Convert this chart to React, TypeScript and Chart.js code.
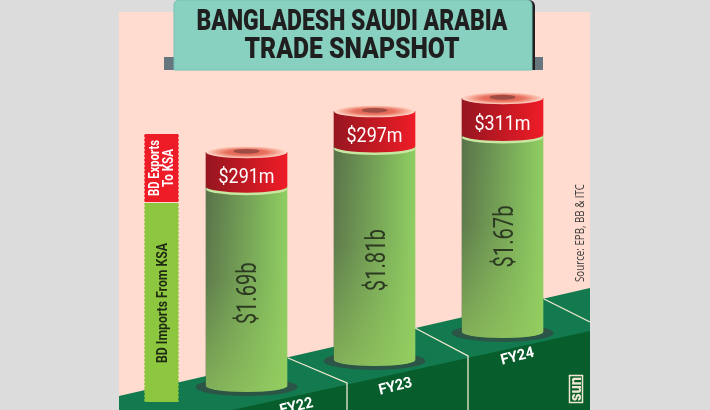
import React, { useEffect, useRef } from "react";
import { Chart, registerables } from "chart.js";

Chart.register(...registerables);

const fiscalYears = ["FY22", "FY23", "FY24"];
// Height of each cylinder's foot on the stepped floor, on the same $b scale.
const floorStep = [0.203, 0.424, 0.661];
const importsBn = [1.69, 1.81, 1.67];
const exportsBn = [0.291, 0.297, 0.311];
const importLabels = ["$1.69b", "$1.81b", "$1.67b"];
const exportLabels = ["$291m", "$297m", "$311m"];
const titleLines = ["BANGLADESH SAUDI ARABIA", "TRADE SNAPSHOT"];
const sourceNote = "Source: EPB, BB & ITC";
const legendExports = ["BD Exports", "To KSA"];
const legendImports = "BD Imports From KSA";

const PX_PER_BN = 118;
const BAR_PX = 81;
const RY = 6;

function poly(ctx: CanvasRenderingContext2D, pts: number[][], fill: string) {
  ctx.beginPath();
  pts.forEach((p, i) => (i ? ctx.lineTo(p[0], p[1]) : ctx.moveTo(p[0], p[1])));
  ctx.closePath();
  ctx.fillStyle = fill;
  ctx.fill();
}

function rotatedText(
  ctx: CanvasRenderingContext2D,
  text: string,
  x: number,
  y: number,
  angle: number,
  font: string,
  color: string,
  maxWidth?: number
) {
  ctx.save();
  ctx.translate(x, y);
  ctx.rotate(angle);
  ctx.font = font;
  ctx.fillStyle = color;
  ctx.textAlign = "center";
  ctx.textBaseline = "middle";
  if (maxWidth) ctx.fillText(text, 0, 0, maxWidth);
  else ctx.fillText(text, 0, 0);
  ctx.restore();
}

function stampPath(ctx: CanvasRenderingContext2D, l: number, t: number, r: number, b: number) {
  ctx.beginPath();
  ctx.moveTo(l, t);
  ctx.lineTo(r, t);
  let y = t;
  let out = true;
  while (y < b) {
    y = Math.min(b, y + 2);
    ctx.lineTo(out ? r + 1 : r, y);
    out = !out;
  }
  ctx.lineTo(l, b);
  while (y > t) {
    y = Math.max(t, y - 2);
    ctx.lineTo(out ? l - 1 : l, y);
    out = !out;
  }
  ctx.closePath();
}

const bandGradient = (ctx: CanvasRenderingContext2D, x: number, w: number, left: string, right: string) => {
  const g = ctx.createLinearGradient(x - w / 2, 0, x + w / 2, 0);
  g.addColorStop(0, left);
  g.addColorStop(1, right);
  return g;
};

const GREEN_L = "#58724a";
const GREEN_R = "#8fce62";
const RED_L = "#96161f";
const RED_R = "#ee1c27";

const scriptedBand = (left: string, right: string) => (c: any) => {
  const x = c.chart.scales?.x?.getPixelForValue(c.dataIndex);
  return Number.isFinite(x) ? bandGradient(c.chart.ctx, x, BAR_PX, left, right) : right;
};

const infographic = {
  id: "infographic",
  beforeDraw(chart: any) {
    const ctx: CanvasRenderingContext2D = chart.ctx;
    ctx.save();
    ctx.fillStyle = "#dcdcdc";
    ctx.fillRect(0, 0, 710, 410);
    ctx.fillStyle = "#ffdccf";
    ctx.fillRect(119, 12, 471, 398);

    // stepped floor
    poly(ctx, [[119, 396], [590, 288], [590, 410], [119, 410]], "#127a4e");
    poly(ctx, [[232, 410], [590, 331], [590, 410]], "#075e2c");
    ctx.strokeStyle = "#efe8cf";
    ctx.lineWidth = 1.3;
    [
      [[288, 358], [347, 383], [347, 410]],
      [[415, 328], [468, 356], [468, 410]],
      [[544, 299], [590, 322]],
    ].forEach((seg) => {
      ctx.beginPath();
      seg.forEach((p, i) => (i ? ctx.lineTo(p[0], p[1]) : ctx.moveTo(p[0], p[1])));
      ctx.stroke();
    });

    // title panel
    ctx.fillStyle = "#66767f";
    ctx.fillRect(164, 57, 10, 13);
    ctx.fillRect(533, 57, 10, 13);
    ctx.beginPath();
    ctx.roundRect(174, 0, 361, 70, [6, 6, 0, 0]);
    ctx.fillStyle = "#231f20";
    ctx.fill();
    ctx.beginPath();
    ctx.roundRect(174, 0, 358, 70, [5, 5, 0, 0]);
    ctx.fillStyle = "#88d0c0";
    ctx.fill();
    ctx.strokeStyle = "#74c2b2";
    ctx.lineWidth = 1;
    ctx.stroke();
    titleLines.forEach((line, i) => {
      const w = i === 0 ? 311 : 215;
      rotatedText(ctx, line, 352, 23 + i * 27.5, 0, "900 29px Roboto", "#1f1f20", w);
    });

    // source + logo
    rotatedText(ctx, sourceNote, 580.5, 233, -Math.PI / 2, "12px 'Open Sans'", "#3a3a3a", 98);
    ctx.strokeStyle = "#efe8cf";
    ctx.lineWidth = 1.5;
    ctx.strokeRect(569.5, 375.5, 13, 27);
    rotatedText(ctx, "sun", 576.5, 389, -Math.PI / 2, "900 17px Roboto", "#efe8cf", 24);

    // stacked legend strip
    stampPath(ctx, 145, 134, 178, 202);
    ctx.fillStyle = "#ee1c27";
    ctx.fill();
    stampPath(ctx, 145, 203, 178, 402);
    ctx.fillStyle = "#8dc63f";
    ctx.fill();
    legendExports.forEach((line, i) =>
      rotatedText(ctx, line, 155 + i * 14, 168, -Math.PI / 2, "700 14px Roboto", "#ffffff", i === 0 ? 56 : 38)
    );
    rotatedText(ctx, legendImports, 163.5, 303, -Math.PI / 2, "700 14px Roboto", "#1f2a14", 120);
    ctx.restore();
  },
  beforeDatasetsDraw(chart: any) {
    const ctx: CanvasRenderingContext2D = chart.ctx;
    const green = chart.getDatasetMeta(1).data;
    ctx.save();
    green.forEach((bar: any) => {
      // ground shadow and cylinder foot
      ctx.beginPath();
      ctx.ellipse(bar.x, bar.base + 1, 51, 9, 0, 0, Math.PI * 2);
      ctx.fillStyle = "#2b5547";
      ctx.fill();
      ctx.beginPath();
      ctx.ellipse(bar.x, bar.base, BAR_PX / 2, RY, 0, 0, Math.PI * 2);
      ctx.fillStyle = bandGradient(ctx, bar.x, BAR_PX, GREEN_L, GREEN_R);
      ctx.fill();
    });
    ctx.restore();
  },
  afterDatasetsDraw(chart: any) {
    const ctx: CanvasRenderingContext2D = chart.ctx;
    const green = chart.getDatasetMeta(1).data;
    const red = chart.getDatasetMeta(2).data;
    ctx.save();
    green.forEach((bar: any, i: number) => {
      const rx = BAR_PX / 2;
      const left = bar.x - rx;
      // the body lightens toward its foot
      ctx.beginPath();
      ctx.moveTo(left, bar.y);
      ctx.lineTo(left + BAR_PX, bar.y);
      ctx.lineTo(left + BAR_PX, bar.base);
      ctx.ellipse(bar.x, bar.base, rx, RY, 0, 0, Math.PI);
      ctx.closePath();
      const v = ctx.createLinearGradient(0, bar.y, 0, bar.base + RY);
      v.addColorStop(0, "rgba(150,205,95,0)");
      v.addColorStop(0.45, "rgba(150,205,95,0.12)");
      v.addColorStop(1, "rgba(150,205,95,0.68)");
      ctx.fillStyle = v;
      ctx.fill();

      const rb = red[i];
      // pale rim under the red band
      ctx.beginPath();
      ctx.ellipse(bar.x, rb.base + 2.5, rx, RY, 0, 0, Math.PI * 2);
      ctx.fillStyle = "#c8e8a2";
      ctx.fill();
      ctx.beginPath();
      ctx.ellipse(bar.x, rb.base, rx, RY, 0, 0, Math.PI * 2);
      ctx.fillStyle = bandGradient(ctx, bar.x, BAR_PX, RED_L, RED_R);
      ctx.fill();

      // top disc
      ctx.save();
      ctx.translate(bar.x, rb.y);
      ctx.scale(1, RY / rx);
      const disc = ctx.createRadialGradient(0, 0, 0, 0, 0, rx);
      disc.addColorStop(0, "#d8604f");
      disc.addColorStop(0.5, "#e8705f");
      disc.addColorStop(0.82, "#f9b3a0");
      disc.addColorStop(1, "#ffdccf");
      ctx.beginPath();
      ctx.arc(0, 0, rx, 0, Math.PI * 2);
      ctx.fillStyle = disc;
      ctx.fill();
      ctx.restore();
      ctx.beginPath();
      ctx.ellipse(bar.x, rb.y - 1, 13, 2.4, 0, 0, Math.PI * 2);
      ctx.fillStyle = "#a04c44";
      ctx.fill();

      rotatedText(ctx, exportLabels[i], bar.x, (rb.y + rb.base) / 2 + 8, 0, "400 21px Roboto", "#ffffff", 56);
      rotatedText(
        ctx,
        importLabels[i],
        bar.x + [2.5, 3.5, 4][i],
        (bar.y + bar.base) / 2 + [7, 7, 3][i],
        -Math.PI / 2,
        "400 27px Roboto",
        "#2c3a22",
        62
      );
    });
    // axis categories sit on the front of each floor step
    const xScale = chart.scales.x;
    const yScale = chart.scales.y;
    fiscalYears.forEach((fy, i) => {
      const x = xScale.getPixelForValue(i) + [50, 21, 15][i];
      const y = yScale.getPixelForValue(floorStep[i]) + [21, 27, 25][i];
      rotatedText(ctx, fy, x, y, -0.24, "700 15px Roboto", "#ffffff", 34);
    });
    ctx.restore();
  },
};

export default function App() {
  const ref = useRef<HTMLCanvasElement>(null);
  useEffect(() => {
    const chart = new Chart(ref.current as HTMLCanvasElement, {
      type: "bar",
      data: {
        labels: fiscalYears,
        datasets: [
          { label: "Floor", data: floorStep, backgroundColor: "rgba(0,0,0,0)", barThickness: BAR_PX },
          {
            label: "BD Imports From KSA",
            data: importsBn,
            barThickness: BAR_PX,
            backgroundColor: scriptedBand(GREEN_L, GREEN_R),
          },
          {
            label: "BD Exports To KSA",
            data: exportsBn,
            barThickness: BAR_PX,
            backgroundColor: scriptedBand(RED_L, RED_R),
          },
        ],
      },
      options: {
        responsive: false,
        animation: false,
        layout: { padding: { left: 182.5, right: 143.5, top: 0, bottom: 0 } },
        scales: {
          x: { stacked: true, display: false },
          y: { stacked: true, display: false, min: 0, max: 410 / PX_PER_BN },
        },
        plugins: { legend: { display: false }, tooltip: { enabled: false }, title: { display: false } },
      },
      plugins: [infographic],
    } as any);
    return () => chart.destroy();
  }, []);
  return (
    <div style={{ position: "absolute", left: 0, top: 0, width: 710, height: 410 }}>
      <canvas ref={ref} width={710} height={410} style={{ display: "block" }} />
    </div>
  );
}
